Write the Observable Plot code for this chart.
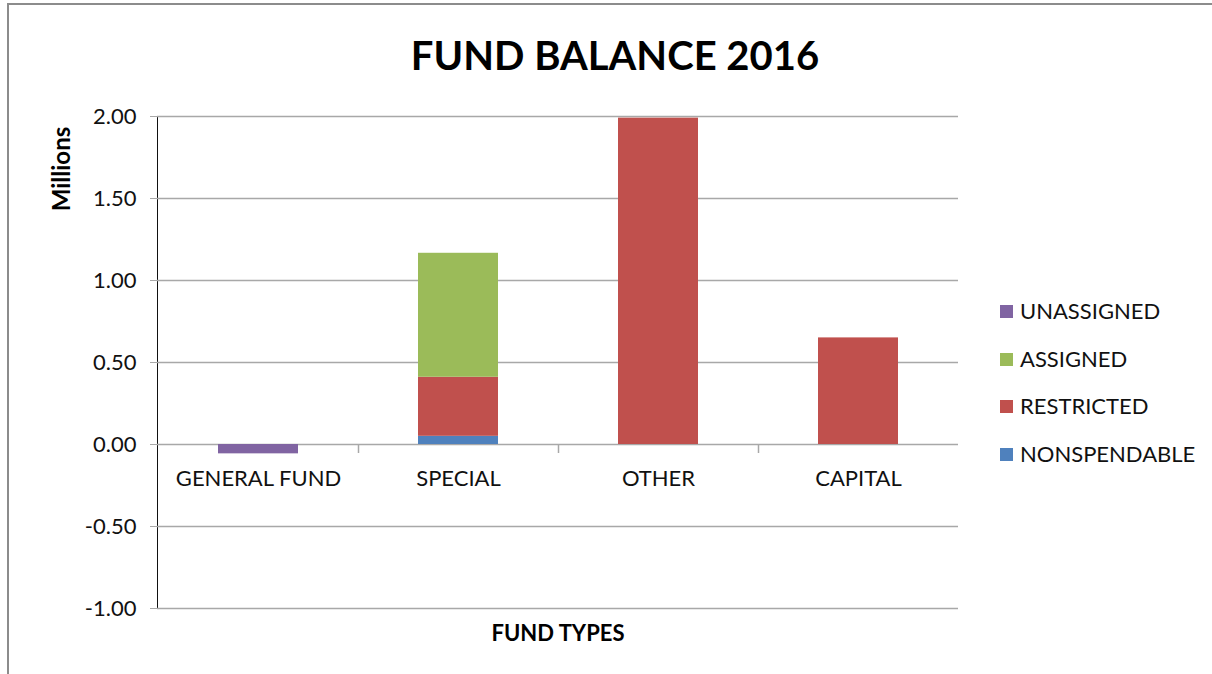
<!DOCTYPE html>
<html><head><meta charset="utf-8">
<script src="https://cdn.jsdelivr.net/npm/d3@7"></script>
<script src="https://cdn.jsdelivr.net/npm/@observablehq/plot@0.6"></script>
<style>
html,body{margin:0;padding:0;background:#fff;}
#wrap{position:relative;width:1212px;height:674px;overflow:hidden;font-family:Lato,"Open Sans",sans-serif;}
#border{position:absolute;left:7px;top:3px;width:1220px;height:700px;border-left:2px solid #8c8c8c;border-top:2px solid #8c8c8c;}
#title{position:absolute;left:0;width:1230px;top:31px;text-align:center;font-weight:bold;font-size:40px;color:#000;}
#ylab{position:absolute;left:60px;top:169px;transform:translate(-50%,-50%) rotate(-90deg);font-weight:bold;font-size:24px;}
#xlab{position:absolute;left:558px;top:632px;transform:translate(-50%,-50%);font-weight:bold;font-size:22px;}
#legend{position:absolute;left:1000px;top:297px;font-size:22px;color:#111;}
#legend div{height:47.6px;display:flex;align-items:flex-start;}
#legend span.sw{display:inline-block;width:13px;height:13px;margin:8px 7px 0 0;}
svg{position:absolute;left:0;top:0;}
</style></head>
<body><div id="wrap"><div id="border"></div><div id="title">FUND BALANCE 2016</div><div id="ylab">Millions</div><div id="xlab">FUND TYPES</div><div id="legend"></div></div>
<script>
const funds = ["GENERAL FUND", "SPECIAL", "OTHER", "CAPITAL"];
const seriesNames = ["NONSPENDABLE", "RESTRICTED", "ASSIGNED", "UNASSIGNED"];
const seriesColors = ["#4F81BD", "#C0504D", "#9BBB59", "#8064A2"];
const nonspendable = [0, 0.05, 0, 0];
const restricted = [0, 0.36, 1.99, 0.65];
const assigned = [0, 0.756, 0, 0];
const unassigned = [-0.057, 0, 0, 0];
const yTicks = [-1, -0.5, 0, 0.5, 1, 1.5, 2];

const valuesBySeries = [nonspendable, restricted, assigned, unassigned];
const rows = [];
seriesNames.forEach((s, si) => funds.forEach((f, fi) => {
  const v = valuesBySeries[si][fi];
  if (v !== 0) rows.push({fund: f, series: s, value: v});
}));

const chart = Plot.plot({
  width: 1212, height: 674,
  marginLeft: 157, marginRight: 254, marginTop: 116, marginBottom: 66,
  style: {fontFamily: "Lato, 'Open Sans', sans-serif", fontSize: "22px", color: "#111", background: "transparent"},
  x: {domain: funds, padding: 0, axis: null},
  y: {domain: [-1, 2], ticks: yTicks, tickFormat: d => d.toFixed(2), tickSize: 7, tickPadding: 14, line: true, label: null},
  color: {domain: seriesNames, range: seriesColors},
  marks: [
    Plot.gridY(yTicks, {stroke: "#a8a8a8", strokeOpacity: 1, strokeWidth: 1.5}),
    Plot.barY(rows, Plot.stackY({order: seriesNames}, {x: "fund", y: "value", fill: "series", insetLeft: 60, insetRight: 60})),
    Plot.ruleX(funds.slice(0, 3), {x: d => d, y1: 0, y2: -0.055, dx: 100, stroke: "#a8a8a8", strokeWidth: 1.5}),
    Plot.text(funds, {x: d => d, y: 0, dy: 34, text: d => d, fontSize: 22, fill: "#111"})
  ]
});
document.getElementById("wrap").appendChild(chart);
chart.querySelectorAll("[aria-label='y-axis tick'], [aria-label='y-axis line']").forEach(g => g.setAttribute("stroke", "#a8a8a8"));

const legend = document.getElementById("legend");
[3, 2, 1, 0].forEach(i => {
  const d = document.createElement("div");
  d.innerHTML = `<span class="sw" style="background:${seriesColors[i]}"></span>${seriesNames[i]}`;
  legend.appendChild(d);
});
</script></body></html>
